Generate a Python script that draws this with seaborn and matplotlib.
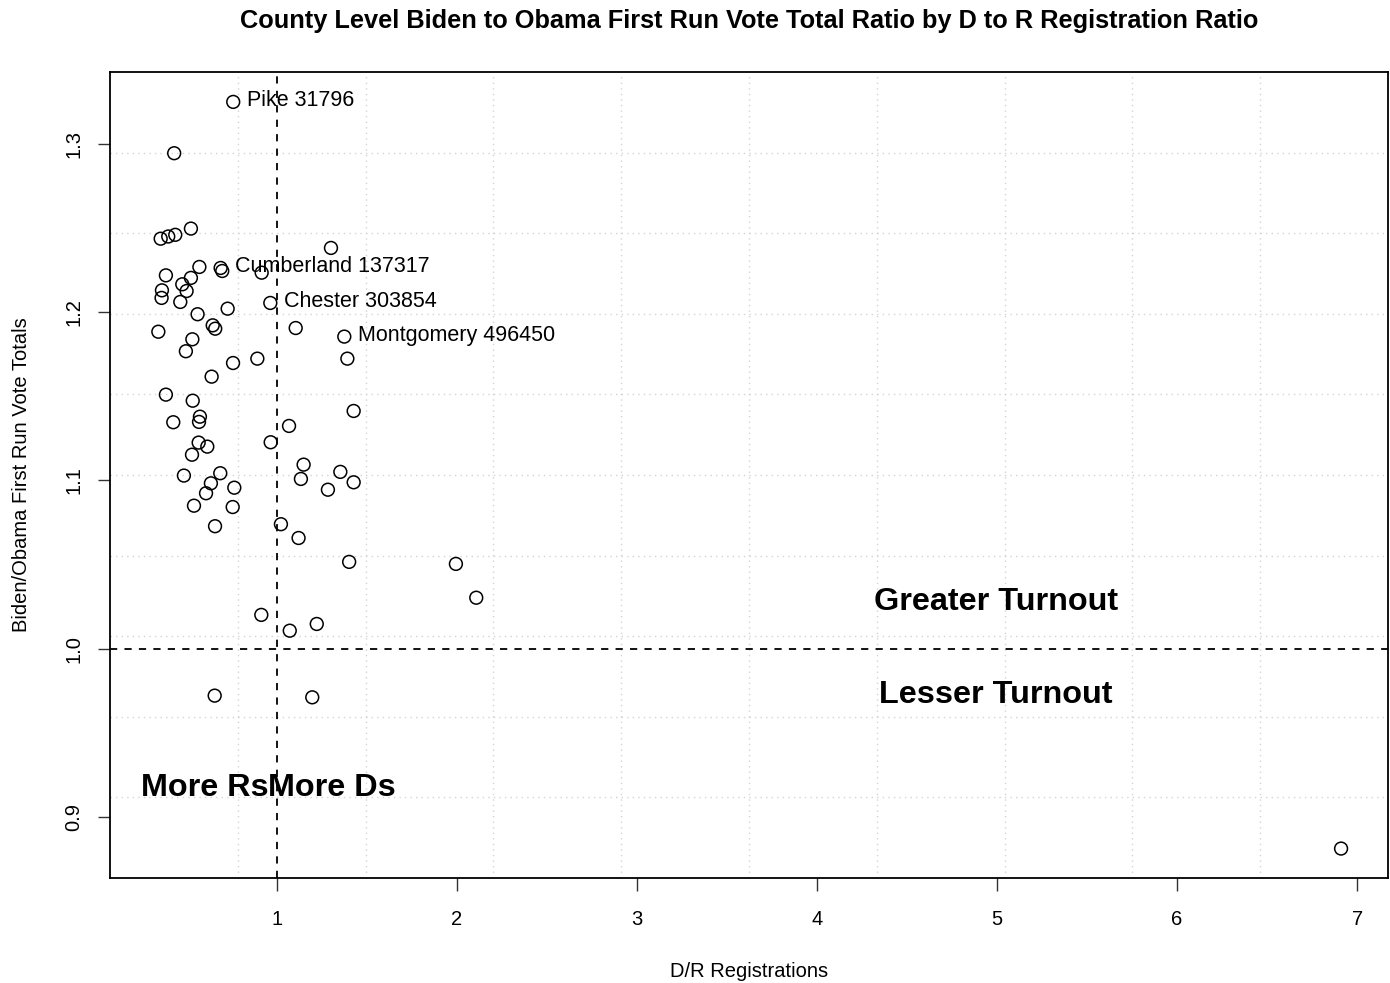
import numpy as np
import pandas as pd
import matplotlib
matplotlib.use("Agg")
import matplotlib.pyplot as plt
import seaborn as sns

# D/R registration ratio and Biden/Obama first-run vote ratio, one row per county
dr_ratio = [
    0.757, 0.429, 0.354, 0.396, 0.435, 0.522, 1.300, 0.569, 0.687, 0.696,
    0.915, 0.383, 0.522, 0.474, 0.361, 0.498, 0.359, 0.463, 0.963, 0.559,
    0.726, 0.643, 0.657, 0.341, 1.104, 1.374, 0.530, 0.494, 0.891, 1.391,
    0.756, 0.637, 0.383, 0.532, 1.426, 0.572, 0.567, 0.424, 1.067, 0.565,
    0.613, 0.965, 0.528, 1.148, 0.483, 0.685, 1.352, 1.133, 1.426, 0.633,
    0.763, 0.606, 1.283, 0.539, 0.754, 0.656, 1.022, 1.120, 1.401, 1.994,
    2.107, 0.913, 1.071, 1.221, 0.654, 1.196, 6.911,
]
vote_ratio = [
    1.3250, 1.2945, 1.2437, 1.2450, 1.2460, 1.2497, 1.2382, 1.2269, 1.2263, 1.2245,
    1.2235, 1.2219, 1.2204, 1.2166, 1.2130, 1.2126, 1.2085, 1.2061, 1.2055, 1.1988,
    1.2021, 1.1922, 1.1902, 1.1884, 1.1906, 1.1855, 1.1839, 1.1768, 1.1724, 1.1724,
    1.1698, 1.1617, 1.1510, 1.1474, 1.1413, 1.1379, 1.1348, 1.1346, 1.1324, 1.1225,
    1.1201, 1.1227, 1.1153, 1.1094, 1.1029, 1.1043, 1.1051, 1.1009, 1.0989, 1.0983,
    1.0957, 1.0924, 1.0945, 1.0850, 1.0842, 1.0728, 1.0740, 1.0658, 1.0516, 1.0504,
    1.0303, 1.0201, 1.0107, 1.0147, 0.9721, 0.9711, 0.8812,
]

# Counties called out by name, with their vote counts
label_names = ["Pike", "Cumberland", "Chester", "Montgomery"]
label_counts = [31796, 137317, 303854, 496450]
label_index = [0, 8, 18, 25]

x_ticks = [1, 2, 3, 4, 5, 6, 7]
y_ticks = [0.9, 1.0, 1.1, 1.2, 1.3]

df = pd.DataFrame({"dr": dr_ratio, "vote": vote_ratio})

sns.set_theme(style="white")
plt.rcParams["font.family"] = ["Liberation Sans", "DejaVu Sans"]
plt.rcParams["text.color"] = "black"
plt.rcParams["axes.labelcolor"] = "black"
plt.rcParams["xtick.color"] = "black"
plt.rcParams["ytick.color"] = "black"

fig = plt.figure(figsize=(13.9, 9.83), dpi=100)
ax = fig.add_axes([0.0791, 0.1068, 0.9195, 0.8200])

xlim = (0.0722, 7.172)
ylim = (0.8637, 1.3428)
ax.set_xlim(*xlim)
ax.set_ylim(*ylim)

# dotted background grid, ten equal divisions each way
for gx in np.linspace(xlim[0], xlim[1], 11)[1:-1]:
    ax.axvline(gx, color="#d3d3d3", lw=1.0, ls=(0, (1, 3)), zorder=0)
for gy in np.linspace(ylim[0], ylim[1], 11)[1:-1]:
    ax.axhline(gy, color="#d3d3d3", lw=1.0, ls=(0, (1, 3)), zorder=0)

# reference lines at parity
ax.axvline(1.0, color="black", lw=1.3, ls=(0, (4, 4)), zorder=1)
ax.axhline(1.0, color="black", lw=1.3, ls=(0, (4, 4)), zorder=1)

sns.scatterplot(data=df, x="dr", y="vote", ax=ax, marker="o", s=85,
                facecolors="none", edgecolor="black", linewidth=1.1,
                zorder=3, legend=False)

for name, count, idx in zip(label_names, label_counts, label_index):
    ax.annotate(f"{name} {count}", (dr_ratio[idx], vote_ratio[idx]),
                xytext=(10, 1), textcoords="offset points",
                ha="left", va="center", fontsize=15.5, color="black", zorder=4)

big = dict(fontsize=23.3, fontweight="bold", color="black", ha="center", va="center")
ax.text(4.995, 1.028, "Greater Turnout", **big)
ax.text(4.995, 0.9722, "Lesser Turnout", **big)
ax.text(0.60, 0.9172, "More Rs", **big)
ax.text(1.305, 0.9172, "More Ds", **big)

ax.set_xticks(x_ticks)
ax.set_xticklabels([str(t) for t in x_ticks])
ax.set_yticks(y_ticks)
ax.set_yticklabels([f"{t:.1f}" for t in y_ticks], rotation=90, va="center")
ax.tick_params(axis="x", direction="out", length=9, width=1.0, color="#333333",
               labelsize=14.5, pad=14, bottom=True)
ax.tick_params(axis="y", direction="out", length=9, width=1.0, color="#333333",
               labelsize=14.5, pad=10, left=True)

for sp in ax.spines.values():
    sp.set_visible(True)
    sp.set_color("black")
    sp.set_linewidth(1.3)

ax.set_xlabel("D/R Registrations", fontsize=14.5, labelpad=24)
ax.set_ylabel("Biden/Obama First Run Vote Totals", fontsize=14.5, labelpad=24)
fig.suptitle("County Level Biden to Obama First Run Vote Total Ratio by D to R Registration Ratio",
             x=0.539, y=0.9787, va="center", fontsize=18.3, fontweight="bold")

fig.savefig("out.png", dpi=100, facecolor="white")
